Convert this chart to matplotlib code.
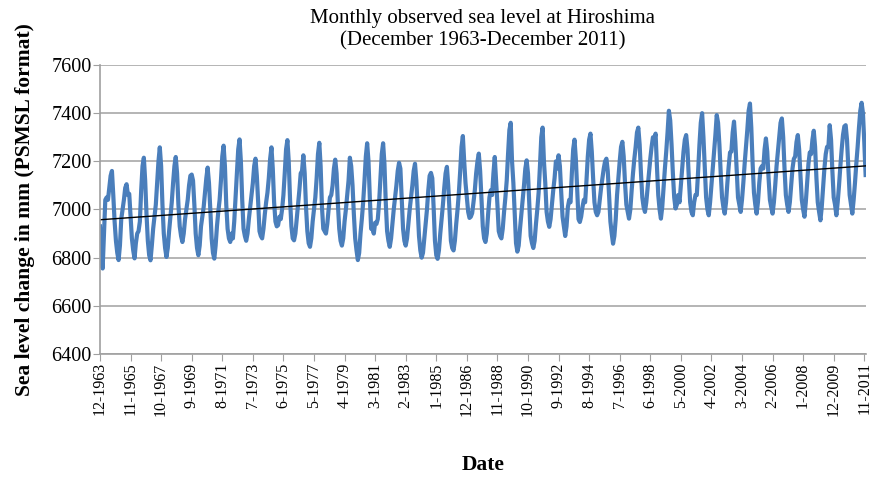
import matplotlib
matplotlib.use('Agg')
import matplotlib.pyplot as plt
import numpy as np

# --- monthly mean sea level at Hiroshima, mm (PSMSL) ---
dec_1963 = [6930]
jan_to_dec = {
    1964: [6800, 6755, 6900, 7040, 7050, 7040, 7090, 7140, 7160, 7060, 6950, 6870],
    1965: [6820, 6790, 6850, 6960, 7000, 7040, 7090, 7105, 7060, 7065, 6970, 6880],
    1966: [6830, 6797, 6860, 6900, 6910, 6950, 7080, 7180, 7215, 7120, 6980, 6870],
    1967: [6810, 6789, 6850, 6920, 6970, 7020, 7110, 7200, 7258, 7180, 7020, 6900],
    1968: [6840, 6803, 6840, 6910, 6970, 7030, 7110, 7180, 7218, 7150, 7020, 6930],
    1969: [6890, 6865, 6900, 6960, 7000, 7040, 7100, 7140, 7145, 7120, 7020, 6900],
    1970: [6840, 6810, 6850, 6930, 6970, 7010, 7070, 7130, 7174, 7110, 7000, 6880],
    1971: [6820, 6796, 6850, 6930, 6990, 7040, 7120, 7220, 7265, 7180, 7020, 6920],
    1972: [6880, 6865, 6900, 6880, 6950, 7050, 7150, 7250, 7291, 7200, 7040, 6920],
    1973: [6890, 6870, 6900, 6960, 7010, 7060, 7110, 7180, 7211, 7140, 7030, 6910],
    1974: [6890, 6880, 6920, 6980, 7030, 7070, 7130, 7210, 7258, 7170, 7030, 6950],
    1975: [6930, 6935, 6970, 6960, 7000, 7060, 7150, 7250, 7288, 7200, 7040, 6930],
    1976: [6880, 6872, 6900, 6960, 7020, 7080, 7150, 7160, 7225, 7150, 7010, 6910],
    1977: [6860, 6845, 6880, 6950, 7000, 7050, 7130, 7230, 7277, 7180, 7010, 6920],
    1978: [6910, 6900, 6940, 7000, 7050, 7060, 7100, 7170, 7207, 7150, 7020, 6920],
    1979: [6870, 6850, 6880, 6950, 7000, 7060, 7120, 7215, 7180, 7100, 6980, 6880],
    1980: [6830, 6790, 6820, 6900, 6960, 7030, 7120, 7220, 7275, 7200, 7050, 6920],
    1981: [6920, 6900, 6945, 6940, 6960, 7030, 7130, 7230, 7275, 7190, 7030, 6910],
    1982: [6870, 6845, 6880, 6940, 7000, 7050, 7100, 7160, 7194, 7170, 7040, 6920],
    1983: [6870, 6850, 6880, 6940, 7000, 7050, 7100, 7160, 7190, 7120, 7000, 6890],
    1984: [6830, 6800, 6820, 6880, 6940, 7000, 7080, 7140, 7152, 7130, 7010, 6870],
    1985: [6810, 6795, 6830, 6900, 6960, 7020, 7090, 7150, 7177, 7100, 6990, 6870],
    1986: [6840, 6830, 6870, 6940, 7000, 7070, 7160, 7260, 7305, 7200, 7110, 7050],
    1987: [6990, 6965, 6970, 6985, 7030, 7080, 7150, 7200, 7232, 7160, 7040, 6930],
    1988: [6880, 6865, 6900, 6980, 7050, 7080, 7060, 7150, 7218, 7120, 7020, 6910],
    1989: [6890, 6880, 6920, 6990, 7050, 7120, 7230, 7330, 7360, 7200, 7110, 6990],
    1990: [6860, 6825, 6850, 6920, 6980, 7040, 7100, 7170, 7204, 7150, 7020, 6890],
    1991: [6860, 6840, 6870, 6940, 7000, 7070, 7180, 7300, 7340, 7200, 7110, 6990],
    1992: [6950, 6928, 6960, 7020, 7080, 7130, 7200, 7170, 7225, 7180, 7070, 6970],
    1993: [6930, 6890, 6930, 7010, 7040, 7030, 7150, 7250, 7290, 7210, 7090, 6960],
    1994: [6948, 6970, 7010, 7040, 7030, 7120, 7220, 7290, 7315, 7240, 7130, 7030],
    1995: [6990, 6976, 6990, 7040, 7090, 7130, 7170, 7200, 7211, 7160, 7060, 6950],
    1996: [6900, 6858, 6890, 6960, 7060, 7130, 7200, 7260, 7281, 7220, 7110, 7020],
    1997: [6990, 6962, 7000, 7080, 7150, 7210, 7260, 7320, 7340, 7270, 7150, 7050],
    1998: [7010, 6990, 7030, 7090, 7150, 7210, 7260, 7300, 7290, 7315, 7180, 7060],
    1999: [7000, 6962, 7010, 7090, 7170, 7240, 7320, 7410, 7370, 7270, 7150, 7050],
    2000: [7004, 7020, 7060, 7030, 7100, 7170, 7240, 7290, 7309, 7250, 7130, 7030],
    2001: [6990, 6976, 7030, 7060, 7060, 7160, 7270, 7360, 7400, 7300, 7170, 7050],
    2002: [7000, 6976, 7030, 7100, 7170, 7240, 7310, 7392, 7360, 7270, 7150, 7050],
    2003: [7010, 6983, 7030, 7110, 7180, 7237, 7240, 7320, 7365, 7280, 7160, 7050],
    2004: [7020, 6990, 7040, 7110, 7190, 7260, 7330, 7410, 7440, 7340, 7190, 7070],
    2005: [7020, 6983, 7030, 7110, 7170, 7180, 7170, 7250, 7295, 7240, 7130, 7040],
    2006: [7010, 6983, 7030, 7100, 7180, 7240, 7300, 7360, 7378, 7300, 7170, 7060],
    2007: [7020, 6990, 7030, 7100, 7170, 7210, 7220, 7280, 7309, 7250, 7140, 7040],
    2008: [7000, 6970, 7030, 7110, 7190, 7237, 7230, 7290, 7327, 7260, 7130, 7030],
    2009: [6990, 6955, 7010, 7090, 7170, 7230, 7260, 7260, 7350, 7290, 7160, 7050],
    2010: [7020, 6976, 7030, 7100, 7180, 7250, 7310, 7345, 7350, 7290, 7170, 7060],
    2011: [7020, 6983, 7040, 7110, 7190, 7260, 7340, 7410, 7443, 7400, 7280, 7143],
}

tick_labels = ['12-1963', '11-1965', '10-1967', '9-1969', '8-1971', '7-1973',
               '6-1975', '5-1977', '4-1979', '3-1981', '2-1983', '1-1985',
               '12-1986', '11-1988', '10-1990', '9-1992', '8-1994', '7-1996',
               '6-1998', '5-2000', '4-2002', '3-2004', '2-2006', '1-2008',
               '12-2009', '11-2011']

sea_level = np.array(dec_1963 + [v for yr in sorted(jan_to_dec) for v in jan_to_dec[yr]], dtype=float)
months = np.arange(len(sea_level))

# linear trend like the spreadsheet trendline
coef = np.polyfit(months, sea_level, 1)
trend = np.polyval(coef, months)

plt.rcParams['font.family'] = ['Liberation Serif', 'DejaVu Serif']

fig = plt.figure(figsize=(8.74, 4.79), dpi=100)
ax = fig.add_axes([0.1144, 0.261, 0.8760, 0.6033])

ax.plot(months, sea_level, color='#4a7ebb', linewidth=3.0, solid_joinstyle='round')
ax.plot(months, trend, color='black', linewidth=1.0)

ax.set_xlim(0, len(sea_level) - 1)
ax.set_ylim(6400, 7600)
ax.set_yticks(np.arange(6400, 7601, 200))
ax.set_xticks(np.arange(0, len(sea_level), 23))
ax.set_xticklabels(tick_labels, rotation=90, fontsize=11.5)
ax.tick_params(axis='y', labelsize=14.5, length=5, color='#a0a0a0', pad=1)
ax.tick_params(axis='x', length=5, color='#a0a0a0', pad=1)

ax.grid(axis='y', color='#b4b4b4', linewidth=1.4)
ax.set_axisbelow(True)
for side in ['top', 'right']:
    ax.spines[side].set_visible(False)
for side in ['left', 'bottom']:
    ax.spines[side].set_color('#a0a0a0')
    ax.spines[side].set_linewidth(1.2)

ax.set_title('Monthly observed sea level at Hiroshima\n(December 1963-December 2011)',
             fontsize=15, linespacing=1.2, pad=14)
ax.set_ylabel('Sea level change in mm (PSMSL format)', fontsize=15.5, fontweight='bold', labelpad=12)
ax.set_xlabel('Date', fontsize=15.5, fontweight='bold', labelpad=28)

plt.savefig('out.png', dpi=100)
print(coef[1], np.polyval(coef, months[-1]))
